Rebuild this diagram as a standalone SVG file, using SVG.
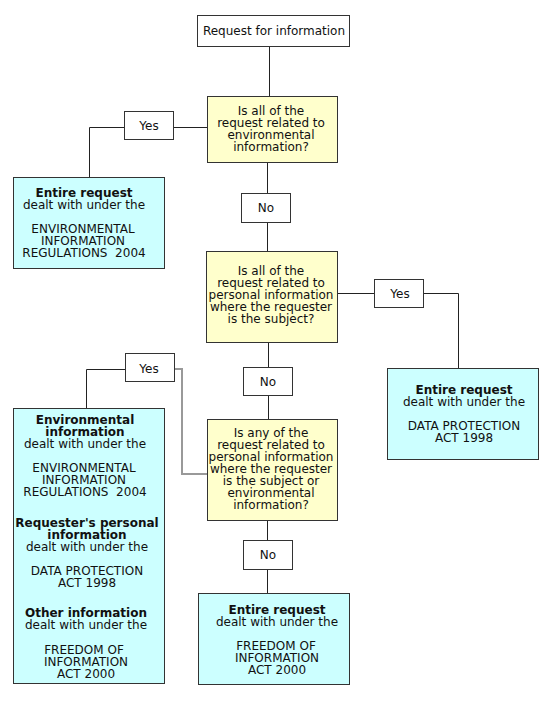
<svg xmlns="http://www.w3.org/2000/svg" width="550" height="716" viewBox="0 0 550 716">
<style>
.box{stroke:#333;stroke-width:1}
.w{fill:#fff}
.y{fill:#ffffcc}
.c{fill:#ccffff}
text{font-family:"DejaVu Sans",Verdana,sans-serif;font-size:12px;fill:#111;text-anchor:middle;white-space:pre}
.b{font-weight:bold}
.ln{stroke:#222;stroke-width:1;fill:none}
.gr{stroke:#999;stroke-width:2;fill:none}
</style>
<rect width="550" height="716" fill="#fff"/>
<g id="connectors">
<path class="ln" d="M269.5 46 V96"/>
<path class="ln" d="M173 127.5 H207 M124 127.5 H89.5 V177"/>
<path class="ln" d="M267.5 162 V193 M267.5 222 V251"/>
<path class="ln" d="M337 293.5 H374 M423 293.5 H458.5 V368"/>
<path class="ln" d="M268.5 342 V367 M268.5 395 V419"/>
<path class="ln" d="M125 369.5 H86.5 V408"/>
<path class="gr" d="M174 369 H182 V474 H207"/>
<path class="ln" d="M267.5 520 V540 M267.5 569 V593"/>
</g>
<g id="start">
<rect class="box w" x="197.5" y="15.5" width="152" height="31"/>
<text x="274" y="35">Request for information</text>
</g>
<g id="q1">
<rect class="box y" x="207.5" y="96.5" width="130" height="66"/>
<text x="271" y="115">Is all of the</text>
<text x="271" y="127">request related to</text>
<text x="271" y="139">environmental</text>
<text x="271" y="151">information?</text>
</g>
<g id="yes1">
<rect class="box w" x="124.5" y="111.5" width="49" height="28"/>
<text x="149" y="130">Yes</text>
</g>
<g id="eir">
<rect class="box c" x="13.5" y="177.5" width="151" height="91"/>
<text class="b" x="84" y="197">Entire request</text>
<text x="84" y="209">dealt with under the</text>
<text x="83" y="233">ENVIRONMENTAL</text>
<text x="83" y="245">INFORMATION</text>
<text x="84" y="257">REGULATIONS  2004</text>
</g>
<g id="no1">
<rect class="box w" x="241.5" y="193.5" width="49" height="29"/>
<text x="266" y="212">No</text>
</g>
<g id="q2">
<rect class="box y" x="206.5" y="251.5" width="131" height="91"/>
<text x="271" y="275">Is all of the</text>
<text x="271" y="287">request related to</text>
<text x="271" y="299">personal information</text>
<text x="271" y="311">where the requester</text>
<text x="271" y="323">is the subject?</text>
</g>
<g id="yes2">
<rect class="box w" x="374.5" y="279.5" width="49" height="28"/>
<text x="400" y="298">Yes</text>
</g>
<g id="dpa">
<rect class="box c" x="387.5" y="368.5" width="151" height="91"/>
<text class="b" x="464" y="394">Entire request</text>
<text x="464" y="406">dealt with under the</text>
<text x="464" y="430">DATA PROTECTION</text>
<text x="464" y="442">ACT 1998</text>
</g>
<g id="no2">
<rect class="box w" x="243.5" y="367.5" width="49" height="28"/>
<text x="268" y="386">No</text>
</g>
<g id="yes3">
<rect class="box w" x="125.5" y="353.5" width="49" height="28"/>
<text x="149" y="373">Yes</text>
</g>
<g id="mixed">
<rect class="box c" x="13.5" y="408.5" width="151" height="275"/>
<text class="b" x="85" y="424">Environmental</text>
<text class="b" x="85" y="436">information</text>
<text x="85" y="448">dealt with under the</text>
<text x="84" y="472">ENVIRONMENTAL</text>
<text x="84" y="484">INFORMATION</text>
<text x="85" y="496">REGULATIONS  2004</text>
<text class="b" x="87" y="527">Requester's personal</text>
<text class="b" x="87" y="539">information</text>
<text x="87" y="551">dealt with under the</text>
<text x="87" y="575">DATA PROTECTION</text>
<text x="87" y="587">ACT 1998</text>
<text class="b" x="86" y="617">Other information</text>
<text x="86" y="629">dealt with under the</text>
<text x="84" y="654">FREEDOM OF</text>
<text x="86" y="666">INFORMATION</text>
<text x="86" y="678">ACT 2000</text>
</g>
<g id="q3">
<rect class="box y" x="207.5" y="419.5" width="130" height="101"/>
<text x="271" y="437">Is any of the</text>
<text x="271" y="449">request related to</text>
<text x="271" y="461">personal information</text>
<text x="271" y="473">where the requester</text>
<text x="271" y="485">is the subject or</text>
<text x="271" y="497">environmental</text>
<text x="271" y="509">information?</text>
</g>
<g id="no3">
<rect class="box w" x="243.5" y="540.5" width="49" height="29"/>
<text x="268" y="559">No</text>
</g>
<g id="foi">
<rect class="box c" x="198.5" y="593.5" width="151" height="91"/>
<text class="b" x="277" y="614">Entire request</text>
<text x="277" y="626">dealt with under the</text>
<text x="276" y="650">FREEDOM OF</text>
<text x="277" y="662">INFORMATION</text>
<text x="277" y="674">ACT 2000</text>
</g>
</svg>
